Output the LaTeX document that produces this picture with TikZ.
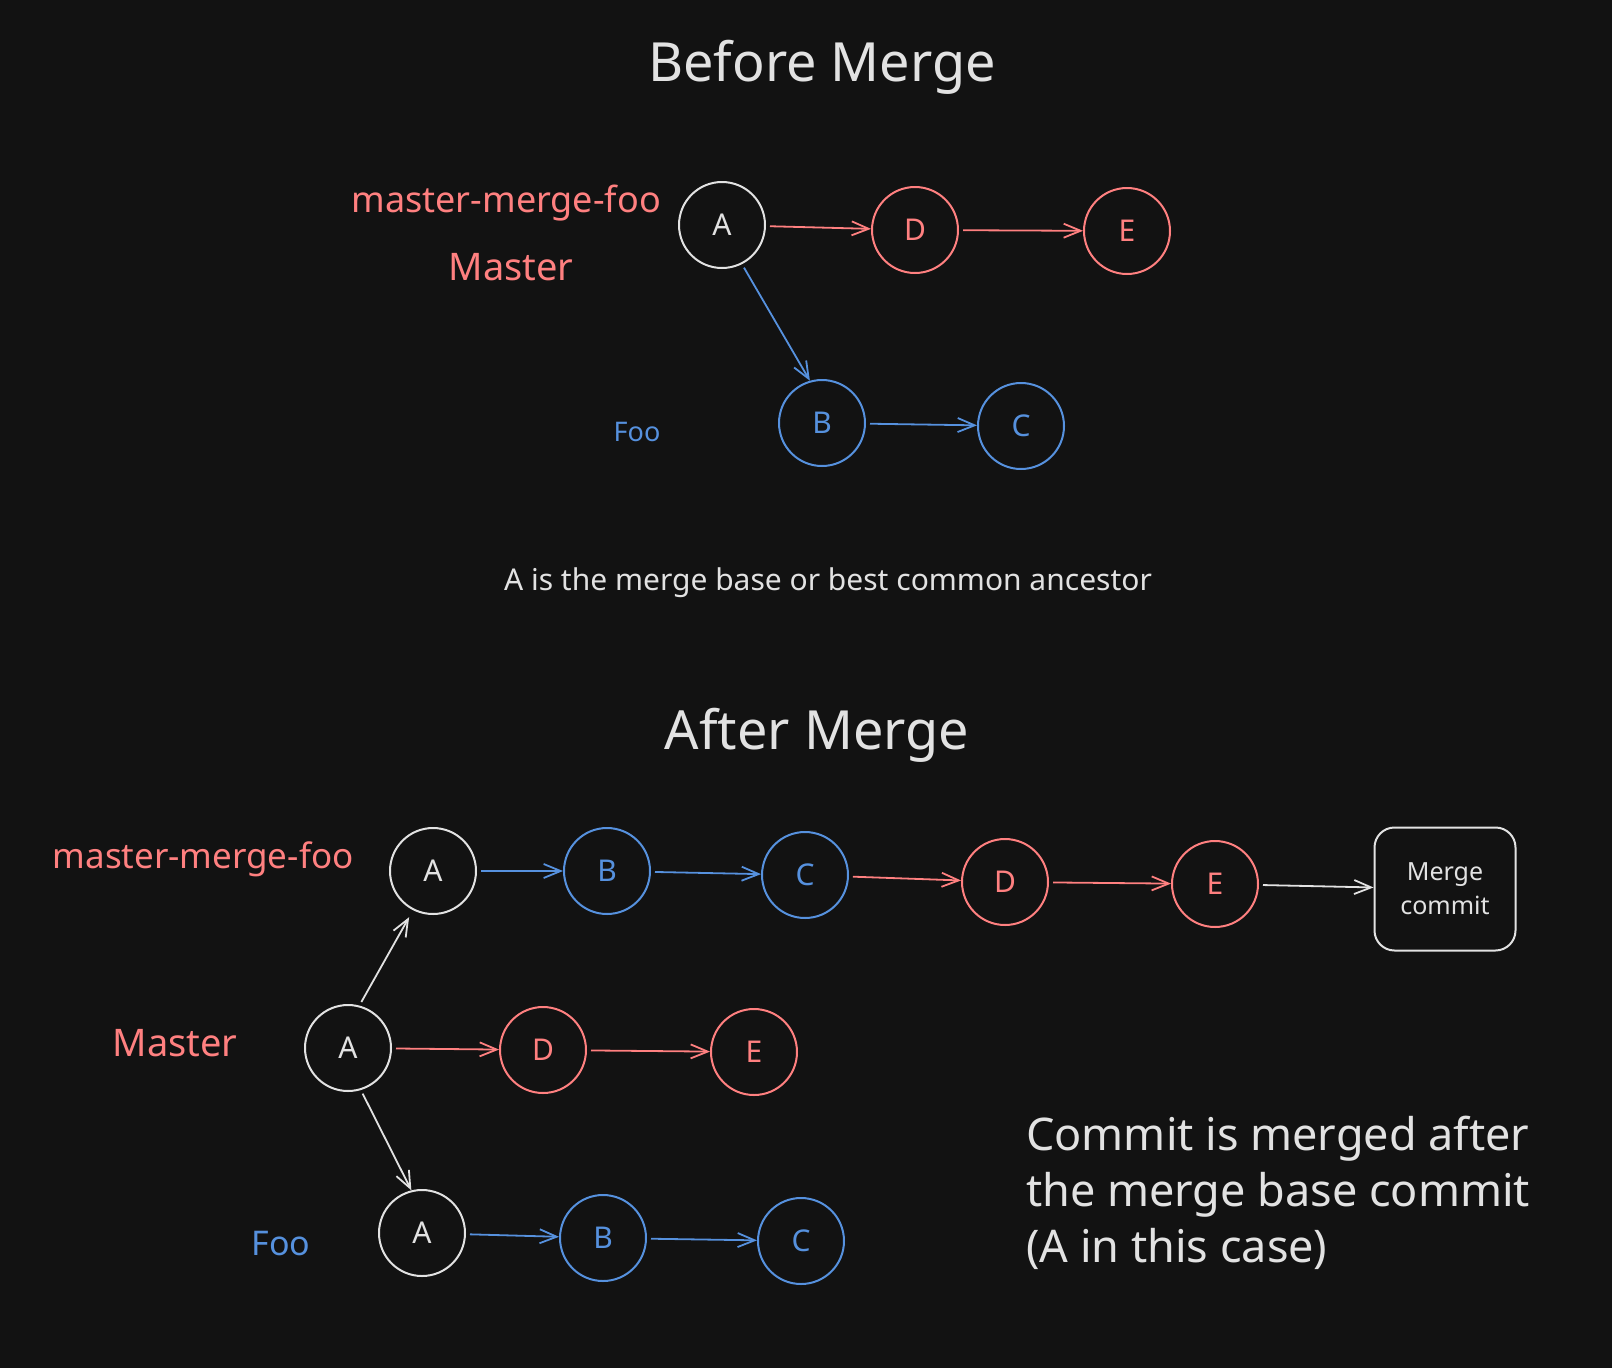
\documentclass[tikz,border=0pt]{standalone}
\usepackage{fontspec}
\setmainfont{Noto Sans}
\usepackage{xcolor}
\definecolor{bg}{RGB}{18, 18, 18}
\definecolor{myred}{RGB}{255, 128, 128}
\definecolor{myblue}{RGB}{86, 145, 222}
\definecolor{mywhite}{RGB}{226, 226, 226}
\usepackage{tikz}
\usetikzlibrary{
    arrows.meta,
    positioning
}
\tikzstyle{arrow} = [
    line width=1.8pt,
    -{Straight Barb[length=17pt, width=14pt]},
    shorten <=4pt
]

\begin{document}
\begin{tikzpicture}[
  x=1pt, y=-1pt,
  commit/.style={circle, draw, minimum size=86pt, inner sep=0pt, line width=2pt, font=\fontsize{30}{36}\selectfont},
  title/.style={inner sep=0pt, text=mywhite, font=\fontsize{54}{60}\selectfont},
  branch/.style={inner sep=0pt, font=\fontsize{36}{40}\selectfont}
]

\fill[bg] (0,0) rectangle (1612,1368);
\useasboundingbox (0,0) rectangle (1612,1368);

% before merge
\node[title] (before) at (822,67) {Before Merge};

\node[commit, draw=mywhite, text=mywhite] (ta) at (722,225) {A};
\node[commit, draw=myred, text=myred]     (td) at (915,230) {D};
\node[commit, draw=myred, text=myred]     (te) at (1127,231) {E};
\node[commit, draw=myblue, text=myblue]   (tb) at (822,423) {B};
\node[commit, draw=myblue, text=myblue]   (tc) at (1021,426) {C};

\node[branch, text=myred, anchor=east] (tmmf) at (661,203) {master-merge-foo};
\node[branch, text=myred, font=\fontsize{38}{42}\selectfont] (tmaster) at (511,267) {Master};
\node[branch, text=myblue, font=\fontsize{27}{32}\selectfont] (tfoo) at (637,432) {Foo};

\draw[arrow, myred]  (ta) -- (td);
\draw[arrow, myred]  (td) -- (te);
\draw[arrow, myblue] (ta.-63) -- (tb.106);
\draw[arrow, myblue] (tb) -- (tc);

\node[inner sep=0pt, text=mywhite, font=\fontsize{30}{36}\selectfont] (note) at (828,583)
  {A is the merge base or best common ancestor};

% after merge
\node[title] (after) at (817,735) {After Merge};

\node[commit, draw=mywhite, text=mywhite] (ba) at (433,871) {A};
\node[commit, draw=myblue, text=myblue]   (bb) at (607,871) {B};
\node[commit, draw=myblue, text=myblue]   (bc) at (805,875) {C};
\node[commit, draw=myred, text=myred]     (bd) at (1005,882) {D};
\node[commit, draw=myred, text=myred]     (be) at (1215,884) {E};
\node[draw=mywhite, text=mywhite, line width=2pt, rounded corners=20pt,
      minimum width=141pt, minimum height=123pt, align=center,
      font=\fontsize{25}{34}\selectfont] (merge) at (1445,889) {Merge\\commit};

\node[commit, draw=mywhite, text=mywhite] (ma) at (348,1048) {A};
\node[commit, draw=myred, text=myred]     (md) at (543,1050) {D};
\node[commit, draw=myred, text=myred]     (me) at (754,1052) {E};

\node[commit, draw=mywhite, text=mywhite] (fa) at (422,1233) {A};
\node[commit, draw=myblue, text=myblue]   (fb) at (603,1238) {B};
\node[commit, draw=myblue, text=myblue]   (fc) at (801,1241) {C};

\node[branch, text=myred, font=\fontsize{35}{40}\selectfont] (bmmf) at (203,859) {master-merge-foo};
\node[branch, text=myred, font=\fontsize{38}{42}\selectfont] (bmaster) at (175,1043) {Master};
\node[branch, text=myblue, font=\fontsize{34}{40}\selectfont] (bfoo) at (281,1244) {Foo};

\draw[arrow, myblue] (ba) -- (bb);
\draw[arrow, myblue] (bb) -- (bc);
\draw[arrow, myred]  (bc) -- (bd);
\draw[arrow, myred]  (bd) -- (be);
\draw[arrow, mywhite] (be) -- (merge);

\draw[arrow, myred] (ma) -- (md);
\draw[arrow, myred] (md) -- (me);
\draw[arrow, mywhite, shorten >=8pt] (ma.75) -- (ba.-117);
\draw[arrow, mywhite] (ma.-73) -- (fa.104);

\draw[arrow, myblue] (fa) -- (fb);
\draw[arrow, myblue] (fb) -- (fc);

\node[inner sep=0pt, anchor=west, align=left, text=mywhite, font=\fontsize{45}{56}\selectfont] (summary) at (1026,1193)
  {Commit is merged after\\the merge base commit\\(A in this case)};

\end{tikzpicture}
\end{document}
